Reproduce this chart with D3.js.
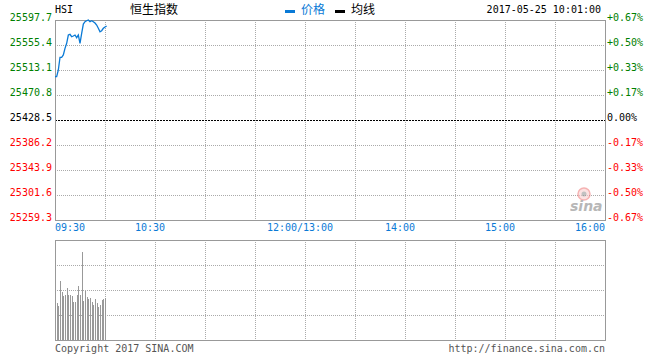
<!DOCTYPE html>
<html>
<head>
<meta charset="utf-8">
<script src="https://cdn.jsdelivr.net/npm/d3@7"></script>
<style>
    body { margin: 0; background: #fff; }
    svg text { font-family: "DejaVu Sans Mono", "Liberation Mono", monospace; font-size: 10px; }
    .cjk { font-family: "Noto Sans CJK SC", sans-serif; font-size: 12px; }
</style>
</head>
<body>
<div id="chart"></div>
<script>
// HSI intraday, 2017-05-25, minutes since 09:30 (lunch break removed)
const preClose = 25428.5;
const priceMinutes = [0, 1, 2, 3, 4, 5, 6, 7, 8, 9, 10, 11, 12, 13, 14, 15, 16, 17, 18, 19, 20, 21, 22, 23, 24, 25, 26, 27, 28, 29, 30, 31];
const prices = [25501.8, 25501.8, 25513.1, 25534.6, 25534.6, 25538.5, 25549.8, 25558.3, 25572.3, 25573.5,
    25569.4, 25570.6, 25572.3, 25567.8, 25572.3, 25558.3, 25575.2, 25590.9, 25594.8, 25596.5,
    25597.7, 25594.8, 25596.5, 25594.8, 25592.6, 25589.2, 25583.7, 25577.9, 25579.6, 25583.7,
    25585.9, 25587.5];
const volMinutes = [1, 2, 3, 4, 5, 6, 7, 8, 9, 10, 11, 12, 13, 14, 15, 16, 17, 18, 19, 20, 21, 22, 23, 24, 25, 26, 27, 28, 29, 30];
const volumes = [37, 34, 59, 48, 44, 45, 52, 45, 45, 44, 38, 38, 45, 54, 45, 88, 39, 49, 43, 41,
    42, 38, 35, 41, 37, 33, 35, 40, 41, 42];

const priceTicks = [25597.7, 25555.4, 25513.1, 25470.8, 25428.5, 25386.2, 25343.9, 25301.6, 25259.3];
const pctTicks = ['+0.67%', '+0.50%', '+0.33%', '+0.17%', '0.00%', '-0.17%', '-0.33%', '-0.50%', '-0.67%'];
const timeTicks = [0, 60, 150, 210, 270, 330];
const timeLabels = ['09:30', '10:30', '12:00/13:00', '14:00', '15:00', '16:00'];
const gridMinutes = [30, 60, 90, 120, 150, 180, 210, 240, 270, 300];
const volGrid = [25, 50, 75];

const width = 660;
const height = 360;
const left = 55;
const right = 605;

const svg = d3.select('#chart').append('svg')
    .attr('width', width)
    .attr('height', height);

const x = d3.scaleLinear().domain([0, 330]).range([left, right]);
const y = d3.scaleLinear().domain([d3.min(priceTicks), d3.max(priceTicks)]).range([220, 20]);
const yVol = d3.scaleLinear().domain([0, 100]).range([340, 240]);

const colorFor = (v) => {
    if (v > preClose) return '#008000';
    if (v < preClose) return '#ff0000';
    return '#000';
};

// header
svg.append('text').attr('x', left).attr('y', 13).attr('fill', '#000').text('HSI');
svg.append('text').attr('class', 'cjk').attr('x', 154).attr('y', 14)
    .attr('text-anchor', 'middle').attr('fill', '#000').text('恒生指数');
svg.append('rect').attr('x', 285).attr('y', 10).attr('width', 10).attr('height', 3).attr('fill', '#0a7ad6');
svg.append('text').attr('class', 'cjk').attr('x', 301).attr('y', 14).attr('fill', '#0a7ad6').text('价格');
svg.append('rect').attr('x', 335).attr('y', 10).attr('width', 10).attr('height', 3).attr('fill', '#000');
svg.append('text').attr('class', 'cjk').attr('x', 351).attr('y', 14).attr('fill', '#000').text('均线');
svg.append('text').attr('x', 601).attr('y', 13).attr('text-anchor', 'end').attr('fill', '#000')
    .text('2017-05-25 10:01:00');

// price grid
const grid = svg.append('g').attr('shape-rendering', 'crispEdges');
grid.selectAll('.hg').data(priceTicks.filter(v => v !== preClose && v !== d3.max(priceTicks) && v !== d3.min(priceTicks)))
    .enter().append('line')
    .attr('x1', left).attr('x2', right)
    .attr('y1', d => Math.round(y(d)) + 0.5).attr('y2', d => Math.round(y(d)) + 0.5)
    .attr('stroke', '#aaa').attr('stroke-dasharray', '1,1');
grid.selectAll('.vg').data(gridMinutes).enter().append('line')
    .attr('x1', d => Math.round(x(d)) + 0.5).attr('x2', d => Math.round(x(d)) + 0.5)
    .attr('y1', 20).attr('y2', 220)
    .attr('stroke', '#aaa').attr('stroke-dasharray', '1,1');
grid.append('line')
    .attr('x1', left).attr('x2', right)
    .attr('y1', Math.round(y(preClose)) + 0.5).attr('y2', Math.round(y(preClose)) + 0.5)
    .attr('stroke', '#000').attr('stroke-dasharray', '2,1');

// sina watermark
const logo = svg.append('g').attr('transform', 'translate(570,187)').attr('opacity', 0.6);
logo.append('circle').attr('cx', 14).attr('cy', 7).attr('r', 6).attr('fill', '#fbd0d0').attr('stroke', '#f08080').attr('stroke-width', 1.5);
logo.append('circle').attr('cx', 14).attr('cy', 7).attr('r', 2.5).attr('fill', '#999');
logo.append('text').attr('x', 0).attr('y', 24)
    .style('font-family', 'Verdana, "DejaVu Sans", sans-serif').style('font-size', '14px')
    .style('font-style', 'italic').style('font-weight', 'bold')
    .attr('fill', '#888').text('sina');

grid.append('rect').attr('x', left + 0.5).attr('y', 20.5).attr('width', right - left).attr('height', 200)
    .attr('fill', 'none').attr('stroke', '#999');

// price line
const line = d3.line()
    .x((d, i) => x(priceMinutes[i]))
    .y(d => y(d));
svg.append('path').datum(prices)
    .attr('d', line)
    .attr('fill', 'none')
    .attr('stroke', '#0a7ad6')
    .attr('stroke-width', 1.3);

// axis labels
svg.selectAll('.pl').data(priceTicks).enter().append('text')
    .attr('x', 52).attr('y', d => y(d) + 1)
    .attr('text-anchor', 'end')
    .attr('fill', d => colorFor(d))
    .text(d => d.toFixed(1));
svg.selectAll('.pr').data(pctTicks).enter().append('text')
    .attr('x', 607).attr('y', (d, i) => y(priceTicks[i]) + 1)
    .attr('fill', (d, i) => colorFor(priceTicks[i]))
    .text(d => d);
svg.selectAll('.tl').data(timeTicks).enter().append('text')
    .attr('x', (d, i) => {
        if (i === 0) return x(d);
        if (i === timeTicks.length - 1) return x(d);
        return x(d) - 5;
    })
    .attr('y', 231)
    .attr('text-anchor', (d, i) => {
        if (i === 0) return 'start';
        if (i === timeTicks.length - 1) return 'end';
        return 'middle';
    })
    .attr('fill', '#0a7ad6')
    .text((d, i) => timeLabels[i]);

// volume panel
const vgrid = svg.append('g').attr('shape-rendering', 'crispEdges');
vgrid.selectAll('.vh').data(volGrid).enter().append('line')
    .attr('x1', left).attr('x2', right)
    .attr('y1', d => Math.round(yVol(d)) + 0.5).attr('y2', d => Math.round(yVol(d)) + 0.5)
    .attr('stroke', '#aaa').attr('stroke-dasharray', '1,1');
vgrid.selectAll('.vv').data(gridMinutes).enter().append('line')
    .attr('x1', d => Math.round(x(d)) + 0.5).attr('x2', d => Math.round(x(d)) + 0.5)
    .attr('y1', 240).attr('y2', 340)
    .attr('stroke', '#aaa').attr('stroke-dasharray', '1,1');

svg.append('g').attr('shape-rendering', 'crispEdges')
    .selectAll('rect').data(volumes).enter().append('rect')
    .attr('x', (d, i) => Math.round(x(volMinutes[i])))
    .attr('width', 1)
    .attr('y', d => yVol(d))
    .attr('height', d => yVol(0) - yVol(d))
    .attr('fill', '#999');

vgrid.append('rect').attr('x', left + 0.5).attr('y', 240.5).attr('width', right - left).attr('height', 100)
    .attr('fill', 'none').attr('stroke', '#999');

// footer
svg.append('text').attr('x', left).attr('y', 352).attr('fill', '#555').text('Copyright 2017 SINA.COM');
svg.append('text').attr('x', right).attr('y', 352).attr('text-anchor', 'end').attr('fill', '#555')
    .text('http://finance.sina.com.cn');
</script>
</body>
</html>
